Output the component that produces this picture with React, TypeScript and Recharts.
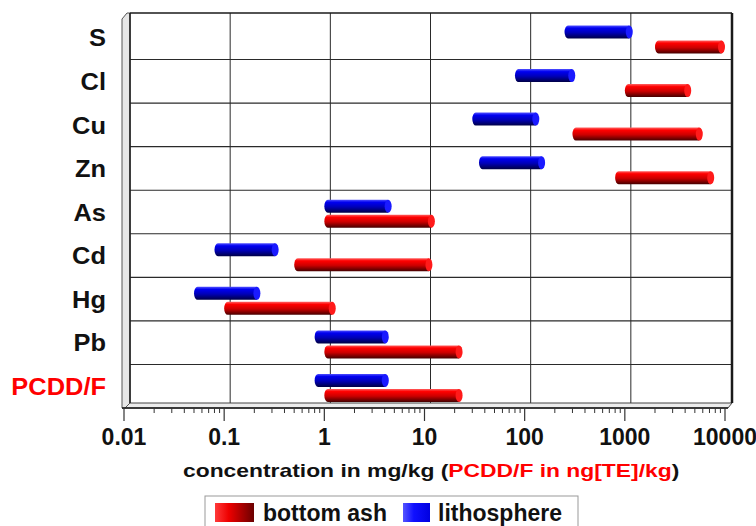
import { BarChart, Bar, XAxis, YAxis, CartesianGrid } from "recharts";

const categories = ["S", "Cl", "Cu", "Zn", "As", "Cd", "Hg", "Pb", "PCDD/F"];
const lithoLow = [250, 80, 30, 35, 1, 0.08, 0.05, 0.8, 0.8];
const lithoHigh = [1200, 320, 140, 160, 4.7, 0.35, 0.23, 4.4, 4.4];
const ashLow = [2000, 1000, 300, 800, 1, 0.5, 0.1, 1, 1];
const ashHigh = [10000, 4600, 6000, 7800, 12.7, 12, 1.3, 24, 24];

const majorTicks = [0.01, 0.1, 1, 10, 100, 1000, 10000];
const tickLabels = ["0.01", "0.1", "1", "10", "100", "1000", "10000"];
const minorSteps = [2, 3, 4, 5, 6, 7, 8, 9];
const redLabels = ["PCDD/F"];

const allTicks = [
  ...majorTicks,
  ...majorTicks.slice(0, -1).flatMap((m) => minorSteps.map((k) => m * k)),
].sort((a, b) => a - b);

const data = categories.map((name, i) => ({
  name,
  litho: [lithoLow[i], lithoHigh[i]],
  ash: [ashLow[i], ashHigh[i]],
}));

const FONT = '"Liberation Sans", Arial, Helvetica, sans-serif';
const W = 756;
const H = 526;
// front plane of the plot (where the axis sits) and the back wall
const PLOT = { left: 124, right: 725, top: 16, bottom: 408 };
const BACK = { left: 130, right: 732, top: 13, bottom: 403 };

function Defs() {
  return (
    <defs>
      <linearGradient id="cyl-red" x1="0" y1="0" x2="0" y2="1">
        <stop offset="0%" stopColor="#ff6060" />
        <stop offset="20%" stopColor="#ff0000" />
        <stop offset="55%" stopColor="#cc0000" />
        <stop offset="100%" stopColor="#450000" />
      </linearGradient>
      <linearGradient id="cyl-blue" x1="0" y1="0" x2="0" y2="1">
        <stop offset="0%" stopColor="#5050ff" />
        <stop offset="20%" stopColor="#0000f0" />
        <stop offset="55%" stopColor="#0000b8" />
        <stop offset="100%" stopColor="#000045" />
      </linearGradient>
      <linearGradient id="leg-red" x1="0" y1="0" x2="1" y2="0">
        <stop offset="0%" stopColor="#ff3a3a" />
        <stop offset="35%" stopColor="#ee0000" />
        <stop offset="100%" stopColor="#6a0000" />
      </linearGradient>
      <linearGradient id="leg-blue" x1="0" y1="0" x2="1" y2="0">
        <stop offset="0%" stopColor="#5555ff" />
        <stop offset="40%" stopColor="#1010ff" />
        <stop offset="100%" stopColor="#0000e0" />
      </linearGradient>
    </defs>
  );
}

function Cylinder(props: any) {
  const { x, y, width, height, tone } = props;
  if (width == null || height == null || width <= 0) return null;
  const r = height / 2;
  const cap = 3.5;
  const end = x + width - cap;
  const start = x + cap;
  const capFill = tone === "red" ? "#ff1a1a" : "#1a1aff";
  // slight downward shift mimics the 3D depth of the original
  return (
    <g transform="translate(0,1.5)">
      <path
        d={`M${start},${y} H${end} V${y + height} H${start} A${cap},${r} 0 0 1 ${start},${y} Z`}
        fill={`url(#cyl-${tone})`}
      />
      <ellipse cx={end} cy={y + r} rx={cap} ry={r} fill={capFill} />
    </g>
  );
}

function XTick({ x, y, payload }: any) {
  const v = payload.value;
  const i = majorTicks.findIndex((m) => Math.abs(m - v) < m * 1e-6);
  if (i < 0) {
    return <line x1={x} x2={x} y1={y} y2={y + 5} stroke="#333" strokeWidth={1} />;
  }
  return (
    <g>
      <line x1={x} x2={x} y1={y} y2={y + 13} stroke="#333" strokeWidth={1.2} />
      <text
        x={x}
        y={y + 37}
        textAnchor="middle"
        fontFamily={FONT}
        fontWeight="bold"
        fontSize={23}
        fill="#111"
      >
        {tickLabels[i]}
      </text>
    </g>
  );
}

function YTick({ x, y, payload }: any) {
  const red = redLabels.includes(payload.value);
  return (
    <text
      transform={`translate(${x - 18},${y}) scale(1.06,1)`}
      dy="0.36em"
      textAnchor="end"
      fontFamily={FONT}
      fontWeight="bold"
      fontSize={24}
      fill={red ? "#ff0000" : "#111"}
    >
      {payload.value}
    </text>
  );
}

function Floor() {
  return (
    <g>
      <polygon
        points={`${PLOT.left - 2},${PLOT.bottom} ${BACK.left - 3},${BACK.bottom} ${BACK.right},${BACK.bottom} ${BACK.right - 4},${PLOT.bottom}`}
        fill="#ececec"
        stroke="#444"
        strokeWidth={1}
      />
      <polygon
        points={`${PLOT.left - 2},${PLOT.top + 3} ${BACK.left - 3},${BACK.top} ${BACK.left},${BACK.top} ${BACK.left},${BACK.bottom} ${PLOT.left + 1},${PLOT.bottom} ${PLOT.left - 2},${PLOT.bottom}`}
        fill="#e6e6e6"
        stroke="#555"
        strokeWidth={1}
      />
    </g>
  );
}

function Borders() {
  return (
    <g fill="none" stroke="#1a1a1a">
      <line x1={BACK.left} x2={BACK.right} y1={BACK.top} y2={BACK.top} strokeWidth={1.5} />
      <line x1={BACK.left} x2={BACK.left} y1={BACK.top} y2={BACK.bottom} strokeWidth={1.5} />
      <line x1={BACK.right} x2={BACK.right} y1={BACK.top} y2={BACK.bottom} strokeWidth={2.5} />
      <line x1={PLOT.left - 2} x2={BACK.right - 4} y1={PLOT.bottom} y2={PLOT.bottom} strokeWidth={1.3} />
    </g>
  );
}

function Title() {
  return (
    <text
      transform="translate(183,477) scale(1.27,1)"
      fontFamily={FONT}
      fontWeight="bold"
      fontSize={18}
      fill="#111"
    >
      <tspan>concentration in mg/kg (</tspan>
      <tspan fill="#ff0000">PCDD/F in ng[TE]/kg</tspan>
      <tspan>)</tspan>
    </text>
  );
}

function LegendBox() {
  return (
    <g fontFamily={FONT} fontWeight="bold" fontSize={23} fill="#111">
      <rect x={205} y={496} width={373} height={40} fill="#fff" stroke="#999" strokeWidth={1} />
      <rect x={215} y={503} width={39} height={19} fill="url(#leg-red)" />
      <text x={263} y={521}>bottom ash</text>
      <rect x={403} y={503} width={27} height={19} fill="url(#leg-blue)" />
      <text x={438} y={521}>lithosphere</text>
    </g>
  );
}

export default function App() {
  return (
    <div style={{ position: "absolute", left: 0, top: 0, width: W, height: H, background: "#fff" }}>
      <BarChart
        width={W}
        height={H}
        data={data}
        layout="vertical"
        margin={{ top: PLOT.top, right: W - PLOT.right, left: 14, bottom: 58 }}
        barSize={13}
        barGap={2}
      >
        <Defs />
        <Floor />
        <CartesianGrid
          verticalValues={majorTicks.slice(1, -1)}
          horizontalCoordinatesGenerator={({ offset }: any) =>
            offset
              ? categories
                  .slice(1)
                  .map((_, i) => offset.top + (offset.height * (i + 1)) / categories.length)
              : []
          }
          vertical={(p: any) => (
            <path
              key={`v-${p.index}-${p.x1}`}
              d={`M${p.x1 + 6},${BACK.top} V${BACK.bottom} L${p.x1},${PLOT.bottom}`}
              stroke="#2a2a2a"
              strokeWidth={1}
              fill="none"
            />
          )}
          horizontal={(p: any) => (
            <line
              key={`h-${p.index}-${p.y1}`}
              x1={BACK.left}
              x2={BACK.right}
              y1={p.y1}
              y2={p.y2}
              stroke="#2a2a2a"
              strokeWidth={1.1}
            />
          )}
        />
        <XAxis
          type="number"
          scale="log"
          domain={[0.01, 10000]}
          ticks={allTicks}
          interval={0}
          tick={<XTick />}
          tickSize={0}
          tickMargin={0}
          tickLine={false}
          axisLine={false}
          height={60}
          allowDataOverflow
        />
        <YAxis
          type="category"
          dataKey="name"
          width={110}
          interval={0}
          tick={<YTick />}
          tickSize={0}
          tickMargin={0}
          tickLine={false}
          axisLine={false}
        />
        <Bar
          dataKey="litho"
          isAnimationActive={false}
          shape={(p: any) => <Cylinder {...p} tone="blue" />}
        />
        <Bar
          dataKey="ash"
          isAnimationActive={false}
          shape={(p: any) => <Cylinder {...p} tone="red" />}
        />
        <Borders />
        <Title />
        <LegendBox />
      </BarChart>
    </div>
  );
}
